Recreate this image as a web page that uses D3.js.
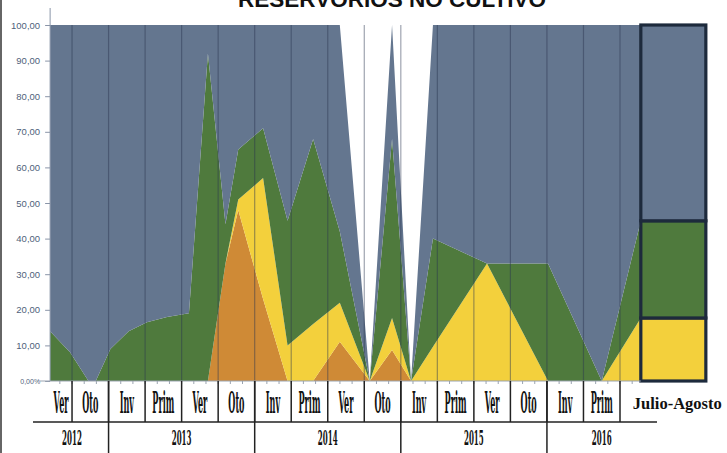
<!DOCTYPE html>
<html><head><meta charset="utf-8">
<script src="https://cdn.jsdelivr.net/npm/d3@7"></script>
<style>
html,body{margin:0;padding:0;background:#fff;}
svg{display:block;}
</style></head>
<body><svg id="chart" width="727" height="453"></svg>
<script>
// ---- data ----
const title = "RESERVORIOS NO CULTIVO";
const seasons = ["Ver","Oto","Inv","Prim","Ver","Oto","Inv","Prim","Ver","Oto","Inv","Prim","Ver","Oto","Inv","Prim"];
const lastLabel = "Julio-Agosto";
const years = ["2012","2013","2014","2015","2016"];
const yearSeasonCounts = [2,4,4,4,3];
const yTicks = [0,10,20,30,40,50,60,70,80,90,100];
// sample times, in season units from the start of Ver 2012
const sampleTime = [0.4,0.95,1.45,1.65,2.05,2.55,3.05,3.6,4.2,4.72,5.2,5.55,6.23,6.9,7.6,8.33,9.15,9.76,10.28,10.88,12.36,14.03,15.5,16.57];
const orange = [0,0,0,0,0,0,0,0,0,0,33,48,23,0,0,11,0,8.7,0,0,0,0,0,0];
const yellow = [0,0,0,0,0,0,0,0,0,0,0,3,34,10,16,11,0,9,0,9.6,33,0,0,17.7];
const green  = [14,8,0,0,9,14,16.5,18,19,92,11,14,14,35,52,20,0,50.3,0,30.4,0,33,0,27.3];
const blue   = [86,92,100,100,91,86,83.5,82,81,8,56,35,29,55,32,58,0,32,0,60,67,67,100,55];

const keys = ["orange","yellow","green","blue"];
const colors = {orange:"#cf8a36", yellow:"#f3d03c", green:"#4f7a3d", blue:"#64768f"};

const rows = sampleTime.map((t,i)=>({t, orange:orange[i], yellow:yellow[i], green:green[i], blue:blue[i]}));

const svg = d3.select("#chart");
const x = d3.scaleLinear().domain([0,16]).range([35.5,620]);
const y = d3.scaleLinear().domain([0,100]).range([381,25]);
const plotLeft = x(sampleTime[0]);
const serif = "DejaVu Serif, Liberation Serif, serif";

// left frame line
svg.append("line").attr("x1",1).attr("x2",1).attr("y1",0).attr("y2",453)
  .attr("stroke","#666").attr("stroke-width",2);

// title (partially cut at top, as in the scan)
svg.append("text").attr("x",392).attr("y",7).attr("text-anchor","middle")
  .attr("font-family","Liberation Sans, Arial, sans-serif").attr("font-weight","bold")
  .attr("font-size",22.5).attr("fill","#111").text(title);

// stacked areas
const series = d3.stack().keys(keys)(rows);
const area = d3.area().x(d=>x(d.data.t)).y0(d=>y(d[0])).y1(d=>y(d[1]));
svg.append("g").selectAll("path").data(series).join("path")
  .attr("d",area).attr("fill",d=>colors[d.key]);

// vertical season grid lines over the plot
const bounds = d3.range(1,17);
svg.append("g").selectAll("line").data(bounds).join("line")
  .attr("x1",d=>x(d)).attr("x2",d=>x(d)).attr("y1",y(100)).attr("y2",y(0))
  .attr("stroke","#2a3550").attr("stroke-opacity",0.45).attr("stroke-width",1.2);

// Julio-Agosto stacked bar from last sample
const last = rows[rows.length-1];
const barX0 = x(last.t), barX1 = x(last.t + 1.78);
const barSeries = series.map(s=>({key:s.key, y0:s[s.length-1][0], y1:s[s.length-1][1]})).filter(d=>d.y1>d.y0);
svg.append("g").selectAll("rect").data(barSeries).join("rect")
  .attr("x",barX0).attr("width",barX1-barX0)
  .attr("y",d=>y(d.y1)).attr("height",d=>y(d.y0)-y(d.y1))
  .attr("fill",d=>colors[d.key]).attr("stroke","#1d2a3c").attr("stroke-width",3.2);

// y axis
const yAxis = d3.axisLeft(y).tickValues(yTicks).tickSize(5).tickPadding(5)
  .tickFormat(d=> d===0 ? "0,00%" : d3.format(".2f")(d).replace(".",","));
const gy = svg.append("g").attr("transform",`translate(${plotLeft},0)`).call(yAxis);
gy.select(".domain").remove();
gy.selectAll(".tick line").attr("stroke","#8a95a8");
gy.selectAll(".tick text").attr("font-family","Liberation Sans, Arial, sans-serif")
  .attr("font-size",d=>d===0?7:9.5).attr("fill","#4f5f7a");
svg.append("line").attr("x1",plotLeft).attr("x2",plotLeft).attr("y1",8).attr("y2",y(0))
  .attr("stroke","#8a95a8").attr("stroke-width",1);

// x axis baseline with monthly minor ticks
svg.append("line").attr("x1",40).attr("x2",x(last.t)).attr("y1",y(0)).attr("y2",y(0))
  .attr("stroke","#9aa3b0").attr("stroke-width",1);
const months = d3.range(2,50).map(k=>k/3).filter(t=>t<16.6);
svg.append("g").selectAll("line").data(months).join("line")
  .attr("x1",d=>x(d)).attr("x2",d=>x(d)).attr("y1",y(0)).attr("y2",y(0)+3)
  .attr("stroke","#9aa3b0");

// category table
const rowTop = 381, rowMid = 422, rowBot = 453;
svg.append("g").selectAll("line").data(bounds).join("line")
  .attr("x1",d=>x(d)).attr("x2",d=>x(d)).attr("y1",rowTop).attr("y2",rowMid)
  .attr("stroke","#222").attr("stroke-width",1.5);
const yearBounds = d3.cumsum(yearSeasonCounts).slice(0,-1);
svg.append("g").selectAll("line").data(yearBounds).join("line")
  .attr("x1",d=>x(d)).attr("x2",d=>x(d)).attr("y1",rowTop).attr("y2",rowBot)
  .attr("stroke","#222").attr("stroke-width",1.5);
svg.append("line").attr("x1",33).attr("x2",657).attr("y1",rowMid).attr("y2",rowMid)
  .attr("stroke","#222").attr("stroke-width",1.5);

// season labels (tall condensed serif)
svg.append("g").selectAll("text").data(seasons).join("text")
  .attr("transform",(d,i)=>`translate(${(x(Math.max(i,sampleTime[0]))+x(i+1))/2},413) scale(0.27,1)`)
  .attr("text-anchor","middle").attr("font-family",serif)
  .attr("font-weight","bold").attr("font-size",30).attr("fill","#111").text(d=>d);

// Julio-Agosto label
svg.append("text").attr("x",(barX0+barX1)/2+4).attr("y",409).attr("text-anchor","middle")
  .attr("font-family","Liberation Serif, Times New Roman, serif").attr("font-weight","bold")
  .attr("font-size",16.5).attr("fill","#111").text(lastLabel);

// year labels
const yearStarts = [0, ...yearBounds];
svg.append("g").selectAll("text").data(years).join("text")
  .attr("transform",(d,i)=>`translate(${(x(yearStarts[i])+x(yearStarts[i]+yearSeasonCounts[i]))/2},445) scale(0.34,1)`)
  .attr("text-anchor","middle").attr("font-family",serif)
  .attr("font-weight","bold").attr("font-size",21).attr("fill","#111").text(d=>d);
</script></body></html>
